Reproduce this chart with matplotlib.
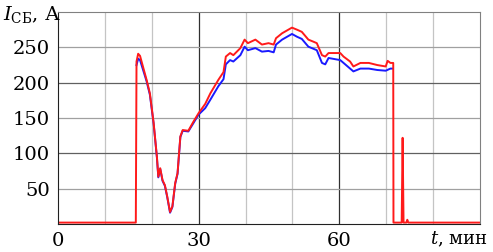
import matplotlib
matplotlib.use("Agg")
import matplotlib.pyplot as plt

plt.rcParams["font.family"] = "DejaVu Serif"
plt.rcParams["mathtext.fontset"] = "dejavuserif"

# Ток (красная кривая)
t_red = [0, 16.6, 16.75, 17.1, 17.5, 18.9, 19.6, 20.4, 21.1, 21.4, 21.8, 22.3, 22.8, 23.3,
         23.9, 24.4, 25.0, 25.5, 26.1, 26.6, 27.8, 28.9, 30.0, 31.4, 32.5, 34.2, 35.3, 35.8,
         36.7, 37.4, 38.9, 39.8, 40.5, 42.1, 43.5, 44.9, 46.0, 46.5, 47.8, 49.9, 51.0, 52.0,
         53.4, 54.5, 55.2, 56.3, 57.0, 57.7, 60.2, 60.9, 62.3, 63.0, 64.5, 66.3, 68.1, 69.9,
         70.3, 70.9, 71.5, 71.55, 73.3, 73.5, 73.7, 74.3, 74.5, 74.7, 90]
i_red = [2, 2, 230, 241, 238, 204, 185, 143, 95, 67, 79, 62, 55, 39,
         17, 25, 58, 72, 124, 133, 132, 145, 157, 170, 185, 204, 215, 237,
         242, 239, 249, 261, 256, 261, 254, 256, 254, 263, 270, 278, 275, 272,
         261, 258, 256, 239, 237, 242, 242, 237, 230, 223, 228, 228, 225, 223,
         231, 228, 228, 2, 2, 122, 2, 2, 6, 2, 2]

# Ток (синяя кривая)
t_blue = [16.75, 17.1, 17.5, 18.9, 19.6, 20.4, 21.1, 21.4, 21.8, 22.3, 22.8, 23.3,
          23.9, 24.4, 25.0, 25.5, 26.1, 26.6, 27.8, 28.9, 30.0, 31.4, 32.5, 34.2, 35.3, 35.8,
          36.7, 37.4, 38.9, 39.8, 40.5, 42.1, 43.5, 44.9, 46.0, 46.5, 47.8, 49.9, 51.0, 52.0,
          53.4, 54.5, 55.2, 56.3, 57.0, 57.7, 60.2, 60.9, 62.3, 63.0, 64.5, 66.3, 68.1, 69.9,
          70.9, 71.45]
i_blue = [225, 234, 232, 202, 183, 142, 94, 66, 78, 61, 54, 38,
          16, 24, 57, 71, 123, 132, 131, 143, 155, 164, 176, 195, 205, 226,
          232, 230, 239, 251, 246, 249, 244, 245, 243, 254, 261, 269, 265, 262,
          251, 248, 246, 228, 226, 235, 232, 228, 220, 216, 220, 220, 218, 217,
          220, 220]

fig = plt.figure(figsize=(4.93, 2.52), dpi=100)
ax = fig.add_axes([0.1176, 0.1111, 0.856, 0.841])

# Сетка
for x in [10, 20, 40, 50, 70, 80]:
    ax.axvline(x, color="#c4c4c4", lw=0.9, zorder=0)
for x in [30, 60]:
    ax.axvline(x, color="#303030", lw=0.9, zorder=0)
for y in [50, 150, 250]:
    ax.axhline(y, color="#a0a0a0", lw=0.9, zorder=0)
for y in [100, 200]:
    ax.axhline(y, color="#606060", lw=0.9, zorder=0)

ax.plot(t_blue, i_blue, color="#1a1aff", lw=1.4)
ax.plot(t_red, i_red, color="#ff1a1a", lw=1.4)

ax.set_xlim(0, 90)
ax.set_ylim(0, 300)
ax.set_xticks([0, 30, 60])
ax.set_yticks([50, 100, 150, 200, 250])
ax.tick_params(length=0, labelsize=14, pad=6)

for s in ["top", "right"]:
    ax.spines[s].set_color("#808080")
for s in ["left", "bottom"]:
    ax.spines[s].set_color("#202020")

fig.text(0.006, 0.92, r"$I_{\rm СБ}$, А", fontsize=14, ha="left", va="baseline")
fig.text(0.99, 0.03, r"$t$, мин", fontsize=13, ha="right", va="baseline")

fig.savefig("out.png", dpi=100)
